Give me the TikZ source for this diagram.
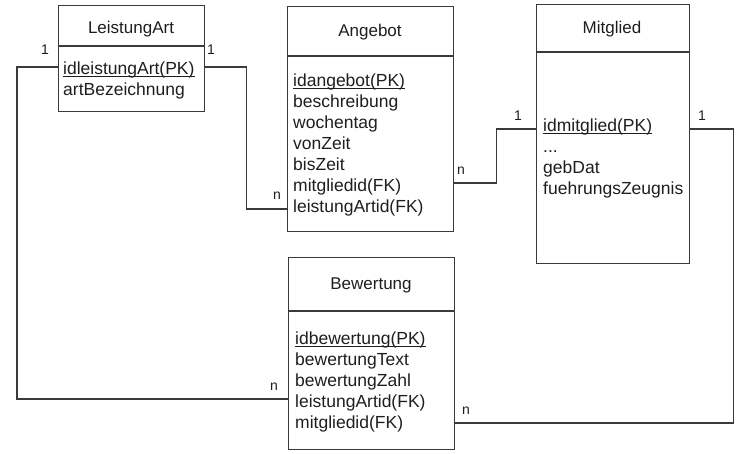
\documentclass[tikz,border=0pt]{standalone}
\usepackage{fontspec}
\setmainfont{Liberation Sans}
\definecolor{ln}{HTML}{3A3A3A}
\definecolor{tx}{HTML}{1E1E1E}
\begin{document}
\begin{tikzpicture}[x=1pt,y=-1pt,
  ent/.style={draw=ln,line width=1.1pt,anchor=north west,inner sep=0pt},
  sep/.style={draw=ln,line width=1.1pt},
  conn/.style={draw=ln,line width=1.1pt},
  ul/.style={draw=tx,line width=0.9pt},
  ttl/.style={anchor=base,font=\fontsize{17}{20}\selectfont,text=tx,inner sep=0pt},
  attr/.style={anchor=base west,font=\fontsize{17.5}{21}\selectfont,text=tx,inner sep=0pt},
  lbl/.style={font=\fontsize{14}{16}\selectfont,text=tx,inner sep=0pt}]
\useasboundingbox (0,0) rectangle (750,453);

% entity boxes
\node[ent,minimum width=146pt,minimum height=106pt] (la) at (58,5) {};
\node[ent,minimum width=166pt,minimum height=225pt] (an) at (287,6) {};
\node[ent,minimum width=153pt,minimum height=259pt] (mi) at (536,4) {};
\node[ent,minimum width=166pt,minimum height=192pt] (be) at (288,257) {};

% header separators
\draw[sep] ([yshift=-41pt]la.north west) -- ([yshift=-41pt]la.north east);
\draw[sep] ([yshift=-50pt]an.north west) -- ([yshift=-50pt]an.north east);
\draw[sep] ([yshift=-48pt]mi.north west) -- ([yshift=-48pt]mi.north east);
\draw[sep] ([yshift=-54pt]be.north west) -- ([yshift=-54pt]be.north east);

% titles
\node[ttl] (laT) at (131,33) {LeistungArt};
\node[ttl] (anT) at (370,36) {Angebot};
\node[ttl] (miT) at (612,33) {Mitglied};
\node[ttl] (beT) at (371,289) {Bewertung};

% attributes
\node[attr] (la1) at (63,74) {idleistungArt(PK)};
\node[attr] (la2) at (63,95) {artBezeichnung};

\node[attr] (an1) at (293,86) {idangebot(PK)};
\node[attr] (an2) at (293,107) {beschreibung};
\node[attr] (an3) at (293,128) {wochentag};
\node[attr] (an4) at (293,149) {vonZeit};
\node[attr] (an5) at (293,170) {bisZeit};
\node[attr] (an6) at (293,191) {mitgliedid(FK)};
\node[attr] (an7) at (293,212) {leistungArtid(FK)};

\node[attr] (mi1) at (543,131) {idmitglied(PK)};
\node[attr] (mi2) at (543,152) {...};
\node[attr] (mi3) at (543,173) {gebDat};
\node[attr] (mi4) at (543,194) {fuehrungsZeugnis};

\node[attr] (be1) at (295,344) {idbewertung(PK)};
\node[attr] (be2) at (295,365) {bewertungText};
\node[attr] (be3) at (295,386) {bewertungZahl};
\node[attr] (be4) at (295,407) {leistungArtid(FK)};
\node[attr] (be5) at (295,428) {mitgliedid(FK)};

% primary key underlines
\foreach \k in {la1,an1,mi1,be1}
  \draw[ul] ([yshift=-2pt]\k.base west) -- ([yshift=-2pt]\k.base east);

% connector end points
\coordinate (laL) at ([yshift=-62pt]la.north west);
\coordinate (laR) at ([yshift=-62pt]la.north east);
\coordinate (anL) at ([yshift=-203pt]an.north west);
\coordinate (anR) at ([yshift=-177pt]an.north east);
\coordinate (miL) at ([yshift=-125pt]mi.north west);
\coordinate (miR) at ([yshift=-125pt]mi.north east);
\coordinate (beL) at ([yshift=-142pt]be.north west);
\coordinate (beR) at ([yshift=-166pt]be.north east);

% connectors
\draw[conn] (laL) -- ++(-41,0) |- (beL);
\draw[conn] (laR) -- ++(41,0) |- (anL);
\draw[conn] (anR) -- ++(42,0) |- (miL);
\draw[conn] (miR) -- ++(43,0) |- (beR);

% cardinalities
\node[lbl] (c1) at (45,50) {1};
\node[lbl] (c2) at (211,50) {1};
\node[lbl] (c3) at (277,196) {n};
\node[lbl] (c4) at (461,171) {n};
\node[lbl] (c5) at (518,116) {1};
\node[lbl] (c6) at (702,116) {1};
\node[lbl] (c7) at (274,387) {n};
\node[lbl] (c8) at (466,411) {n};
\end{tikzpicture}
\end{document}
